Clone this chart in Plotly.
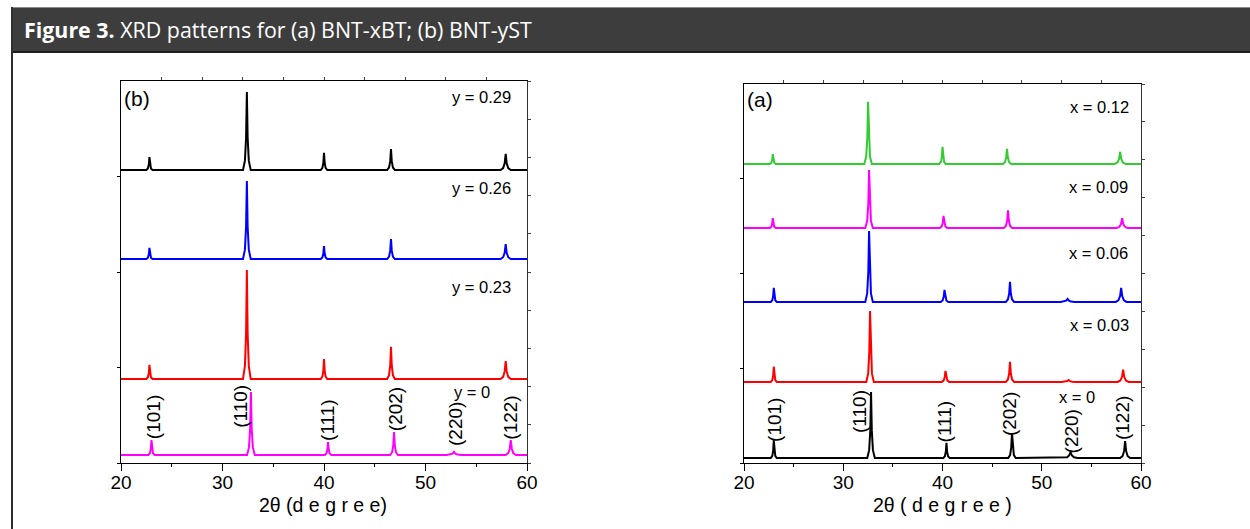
import plotly.graph_objects as go

W, H = 1250, 529

# ---------------- data: panel (b) BNT-yST ----------------
b_labels = ["y = 0.29", "y = 0.26", "y = 0.23", "y = 0"]
b_colors = ["#000000", "#0000ff", "#ff0000", "#ff00ff"]
b_offsets = [76.7, 53.4, 22.0, 2.1]
b_peak_pos = [
    [22.8, 32.4, 40.0, 46.6, 57.9],
    [22.8, 32.4, 40.0, 46.6, 57.9],
    [22.8, 32.4, 40.0, 46.6, 57.9],
    [23.0, 32.8, 40.4, 46.9, 52.8, 58.4],
]
b_peak_int = [
    [3.4, 20.4, 4.5, 5.5, 4.2],
    [2.9, 20.4, 3.4, 5.2, 3.9],
    [3.7, 28.5, 5.2, 8.4, 4.7],
    [3.9, 16.5, 3.4, 6.0, 0.8, 3.9],
]
b_peak_hw = [
    [0.3, 0.38, 0.32, 0.38, 0.5],
    [0.3, 0.38, 0.32, 0.38, 0.5],
    [0.3, 0.38, 0.32, 0.38, 0.5],
    [0.3, 0.38, 0.32, 0.38, 0.7, 0.5],
]
b_miller = ["(101)", "(110)", "(111)", "(202)", "(220)", "(122)"]
b_miller_x = [23.15, 31.7, 40.4, 47.0, 52.9, 58.4]
b_miller_y = [12.0, 14.9, 11.3, 14.1, 10.2, 11.8]
b_label_x = [58.6, 58.6, 58.6, 56.6]
b_label_y = [95.8, 72.0, 46.1, 18.6]

# ---------------- data: panel (a) BNT-xBT ----------------
a_labels = ["x = 0.12", "x = 0.09", "x = 0.06", "x = 0.03", "x = 0"]
a_colors = ["#33cc33", "#ff00ff", "#0000ff", "#ff0000", "#000000"]
a_offsets = [78.9, 62.0, 42.5, 21.4, 1.3]
a_peak_pos = [
    [22.9, 32.5, 40.0, 46.5, 57.9],
    [22.9, 32.6, 40.1, 46.6, 58.1],
    [23.0, 32.6, 40.2, 46.8, 52.6, 58.0],
    [23.0, 32.7, 40.3, 46.8, 52.7, 58.2],
    [23.0, 32.8, 40.4, 47.0, 52.9, 58.4],
]
a_peak_int = [
    [2.6, 16.4, 4.5, 4.0, 3.2],
    [2.6, 15.3, 3.2, 4.7, 2.6],
    [3.7, 18.7, 3.2, 5.3, 0.8, 3.7],
    [4.0, 18.7, 2.9, 5.3, 0.5, 3.2],
    [4.7, 17.4, 4.0, 6.6, 1.6, 4.5],
]
a_peak_hw = [
    [0.3, 0.38, 0.32, 0.42, 0.55],
    [0.3, 0.38, 0.38, 0.42, 0.55],
    [0.3, 0.38, 0.38, 0.42, 0.7, 0.55],
    [0.3, 0.38, 0.38, 0.42, 0.7, 0.55],
    [0.3, 0.38, 0.32, 0.38, 0.7, 0.5],
]
a_miller = ["(101)", "(110)", "(111)", "(202)", "(220)", "(122)"]
a_miller_x = [23.0, 31.7, 40.2, 46.7, 53.0, 58.2]
a_miller_y = [11.3, 13.5, 11.1, 12.9, 8.2, 11.9]
a_label_x = [59.0, 58.9, 58.9, 59.0, 55.6]
a_label_y = [93.9, 72.8, 55.4, 36.4, 17.4]

x_ticks = [20, 30, 40, 50, 60]
x_minor = [25, 35, 45, 55]
x_top_ticks = [24, 28, 32, 36, 40, 44, 48, 52, 56]
y_left_ticks = [0, 25, 50, 75]
y_right_ticks = [0, 10, 20, 30, 40, 50, 60, 70, 80, 90, 100]

# peak outline (style): relative positions and relative heights
PROF_F = [-1.0, -0.5, -0.2, 0.0, 0.2, 0.5, 1.0]
PROF_H = [0.0, 0.12, 0.42, 1.0, 0.42, 0.12, 0.0]


def pattern(offset, pos, inten, hw):
    xs, ys = [20.0], [offset]
    for c, h, w in zip(pos, inten, hw):
        for f, r in zip(PROF_F, PROF_H):
            xs.append(c + f * w)
            ys.append(offset + r * h)
    xs.append(60.0)
    ys.append(offset)
    return xs, ys


fig = go.Figure()

FONT = "Liberation Sans, Arial, sans-serif"

for i in range(len(b_labels)):
    xs, ys = pattern(b_offsets[i], b_peak_pos[i], b_peak_int[i], b_peak_hw[i])
    fig.add_trace(go.Scatter(x=xs, y=ys, mode="lines", name=b_labels[i],
                             line=dict(color=b_colors[i], width=2.0),
                             xaxis="x", yaxis="y", showlegend=False))
for i in range(len(a_labels)):
    xs, ys = pattern(a_offsets[i], a_peak_pos[i], a_peak_int[i], a_peak_hw[i])
    fig.add_trace(go.Scatter(x=xs, y=ys, mode="lines", name=a_labels[i],
                             line=dict(color=a_colors[i], width=2.0),
                             xaxis="x2", yaxis="y2", showlegend=False))

# dummy traces for overlay axes
for xa, ya in [("x3", "y"), ("x", "y3"), ("x4", "y2"), ("x2", "y4")]:
    fig.add_trace(go.Scatter(x=[None], y=[None], xaxis=xa, yaxis=ya,
                             showlegend=False, hoverinfo="skip"))

y_dom = [1 - 463 / H, 1 - 81 / H]
y_dom2 = [1 - 463 / H, 1 - 84 / H]
xb_dom = [121 / W, 527 / W]
xa_dom = [744 / W, 1141 / W]

def xax(dom, anchor):
    return dict(domain=dom, anchor=anchor, range=[20, 60], tickmode="array",
                tickvals=x_ticks, ticks="outside", ticklen=7, tickwidth=1,
                tickcolor="black", showline=True, linecolor="black", linewidth=1,
                showgrid=False, zeroline=False, ticklabelstandoff=-5, automargin=False,
                tickfont=dict(family=FONT, size=19, color="black"),
                minor=dict(tickvals=x_minor, ticks="outside", ticklen=3,
                           tickcolor="black", showgrid=False))

def xtop(over, anchor):
    return dict(overlaying=over, anchor=anchor, side="top", range=[20, 60],
                tickmode="array", tickvals=x_top_ticks, ticks="outside", ticklen=3,
                tickcolor="#444", showline=True, linecolor="black", linewidth=1,
                showticklabels=False, showgrid=False, zeroline=False, automargin=False)

def yax(dom, anchor):
    return dict(domain=dom, anchor=anchor, range=[0, 100], tickmode="array",
                tickvals=y_left_ticks, ticks="outside", ticklen=3, tickcolor="black",
                showline=True, linecolor="black", linewidth=1, showticklabels=False,
                showgrid=False, zeroline=False, automargin=False)

def yright(over, anchor):
    return dict(overlaying=over, anchor=anchor, side="right", range=[0, 100],
                tickmode="array", tickvals=y_right_ticks, ticks="outside", ticklen=3,
                tickcolor="#444", showline=True, linecolor="#333", linewidth=1.2,
                showticklabels=False, showgrid=False, zeroline=False, automargin=False)

fig.update_layout(
    width=W, height=H, autosize=False,
    margin=dict(l=0, r=0, t=0, b=0, pad=0, autoexpand=False),
    paper_bgcolor="white", plot_bgcolor="white",
    xaxis=xax(xb_dom, "y"), yaxis=yax(y_dom, "x"),
    xaxis2=xax(xa_dom, "y2"), yaxis2=yax(y_dom2, "x2"),
    xaxis3=xtop("x", "y"), yaxis3=yright("y", "x"),
    xaxis4=xtop("x2", "y2"), yaxis4=yright("y2", "x2"),
)

shapes = [
    dict(type="rect", xref="paper", yref="paper", x0=11 / W, x1=1.0,
         y0=1 - 52 / H, y1=1 - 8 / H, fillcolor="#3d3d3d", line=dict(width=0), layer="below"),
    dict(type="line", xref="paper", yref="paper", x0=11 / W, x1=1.0,
         y0=1 - 7.5 / H, y1=1 - 7.5 / H, line=dict(color="#8a8a8a", width=1)),
    dict(type="line", xref="paper", yref="paper", x0=11 / W, x1=1.0,
         y0=1 - 52 / H, y1=1 - 52 / H, line=dict(color="#1e1e1e", width=2)),
    dict(type="line", xref="paper", yref="paper", x0=12 / W, x1=12 / W,
         y0=0, y1=1 - 7 / H, line=dict(color="#2e2e2e", width=2)),
]
fig.update_layout(shapes=shapes)

ann = []
ann.append(dict(xref="paper", yref="paper", x=22 / W, y=1 - 30 / H, xanchor="left",
                yanchor="middle", showarrow=False,
                text="<b>Figure 3.</b> XRD patterns for (a) BNT-xBT; (b) BNT-yST",
                font=dict(family="Open Sans, sans-serif", size=21.4, color="white")))

# panel (b)
ann.append(dict(xref="x", yref="y", x=20.1, y=95.5, xanchor="left", yanchor="middle",
                text="(b)", showarrow=False, font=dict(family=FONT, size=21, color="black")))
for t, xx, yy in zip(b_labels, b_label_x, b_label_y):
    ann.append(dict(xref="x", yref="y", x=xx, y=yy, xanchor="right", yanchor="middle",
                    text=t, showarrow=False, font=dict(family=FONT, size=16.5, color="black")))
for t, xx, yy in zip(b_miller, b_miller_x, b_miller_y):
    ann.append(dict(xref="x", yref="y", x=xx, y=yy, xanchor="center", yanchor="middle",
                    text=t, textangle=-90, showarrow=False,
                    font=dict(family=FONT, size=19, color="black")))
ann.append(dict(xref="x", yref="paper", x=39.9, y=1 - 505 / H, xanchor="center",
                yanchor="middle", text="2θ (d e g r e e)", showarrow=False,
                font=dict(family=FONT, size=19.5, color="black")))

# panel (a)
ann.append(dict(xref="x2", yref="y2", x=20.15, y=95.8, xanchor="left", yanchor="middle",
                text="(a)", showarrow=False, font=dict(family=FONT, size=21, color="black")))
for t, xx, yy in zip(a_labels, a_label_x, a_label_y):
    ann.append(dict(xref="x2", yref="y2", x=xx, y=yy, xanchor="right", yanchor="middle",
                    text=t, showarrow=False, font=dict(family=FONT, size=16.5, color="black")))
for t, xx, yy in zip(a_miller, a_miller_x, a_miller_y):
    ann.append(dict(xref="x2", yref="y2", x=xx, y=yy, xanchor="center", yanchor="middle",
                    text=t, textangle=-90, showarrow=False,
                    font=dict(family=FONT, size=19, color="black")))
ann.append(dict(xref="x2", yref="paper", x=40.0, y=1 - 505 / H, xanchor="center",
                yanchor="middle", text="2θ ( d e g r e e )", showarrow=False,
                font=dict(family=FONT, size=19.5, color="black")))

fig.update_layout(annotations=ann)
fig.write_html(
    "out.html",
    post_script="document.body.style.margin='0';document.body.style.overflow='hidden';"
                "document.documentElement.style.overflow='hidden';",
)
